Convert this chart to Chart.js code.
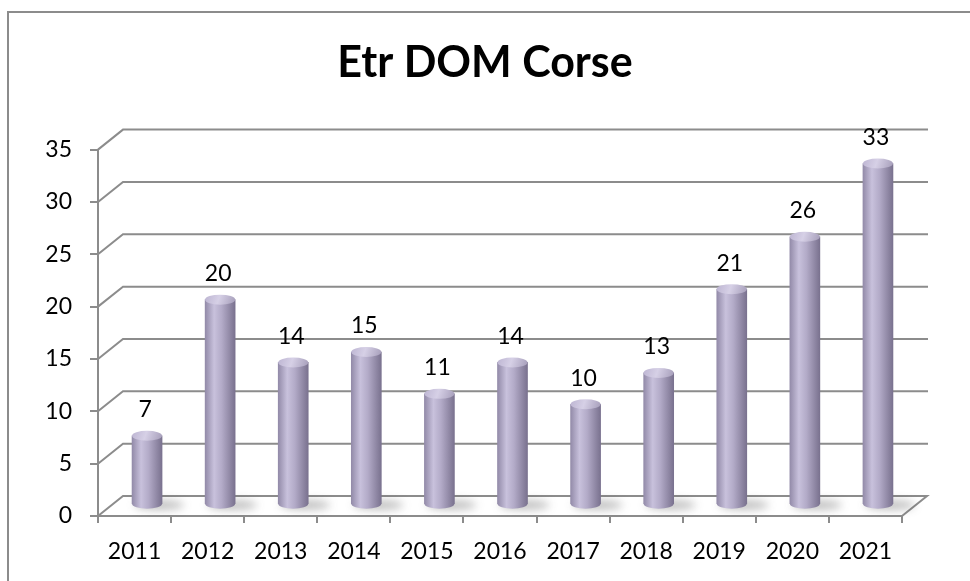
<!DOCTYPE html>
<html>
<head>
<meta charset="utf-8">
<script src="https://cdn.jsdelivr.net/npm/chart.js@4"></script>
<style>
  body { margin: 0; background: #fff; }
  #wrap { width: 970px; height: 581px; }
</style>
</head>
<body>
<div id="wrap"><canvas id="myChart" width="970" height="581"></canvas></div>
<script>
var years = ["2011", "2012", "2013", "2014", "2015", "2016", "2017", "2018", "2019", "2020", "2021"];
var values = [7, 20, 14, 15, 11, 14, 10, 13, 21, 26, 33];
var yTicks = [0, 5, 10, 15, 20, 25, 30, 35];

var DX = 25, DY = -20;          // depth of the 3D box
var SHIFT_X = 12.5, SHIFT_Y = -7; // bars sit in the middle of the box
var BAR_W = 30, RY = 5;
var GRID = '#8c8c8c';

function bodyGradient(ctx, x) {
    var g = ctx.createLinearGradient(x - BAR_W / 2, 0, x + BAR_W / 2, 0);
    g.addColorStop(0, '#938ba9');
    g.addColorStop(0.3, '#c8c1dc');
    g.addColorStop(0.55, '#b3abc8');
    g.addColorStop(1, '#7a728f');
    return g;
}

// frame, 3D grid, floor and shadows
var box3d = {
    id: 'box3d',
    beforeDraw: function(chart) {
        var ctx = chart.ctx;
        ctx.save();
        ctx.fillStyle = '#fff';
        ctx.fillRect(0, 0, chart.width, chart.height);
        ctx.strokeStyle = '#8c8c8c';
        ctx.lineWidth = 2;
        ctx.beginPath();
        ctx.moveTo(8, chart.height);
        ctx.lineTo(8, 12);
        ctx.lineTo(chart.width, 12);
        ctx.stroke();
        ctx.restore();
    },
    beforeDatasetsDraw: function(chart) {
        var ctx = chart.ctx, a = chart.chartArea, y = chart.scales.y, x = chart.scales.x;
        ctx.save();
        ctx.strokeStyle = GRID;
        ctx.lineWidth = 2;
        yTicks.forEach(function(v) {
            var py = y.getPixelForValue(v);
            ctx.beginPath();
            ctx.moveTo(a.left, py);
            ctx.lineTo(a.left + DX, py + DY);
            ctx.lineTo(a.right + DX + (v === 0 ? 0 : 1), py + DY);
            if (v === 0) ctx.lineTo(a.right, py);
            ctx.stroke();
        });
        // shadows on the floor
        ctx.filter = 'blur(4px)';
        ctx.fillStyle = 'rgba(60,60,60,0.32)';
        values.forEach(function(v, i) {
            var px = x.getPixelForValue(i) + SHIFT_X;
            ctx.beginPath();
            ctx.ellipse(px + 12, a.bottom + SHIFT_Y - 4, 25, 5, 0, 0, Math.PI * 2);
            ctx.fill();
        });
        ctx.restore();
        ctx.save();
        ctx.translate(SHIFT_X, SHIFT_Y);
    },
    afterDatasetsDraw: function(chart) {
        var ctx = chart.ctx;
        var meta = chart.getDatasetMeta(0);
        meta.data.forEach(function(el, i) {
            // rounded bottom
            ctx.beginPath();
            ctx.ellipse(el.x, el.base, BAR_W / 2, RY, 0, 0, Math.PI);
            ctx.fillStyle = bodyGradient(ctx, el.x);
            ctx.fill();
            // top cap
            var g = ctx.createLinearGradient(el.x - BAR_W / 2, el.y - RY, el.x + BAR_W / 2, el.y + RY);
            g.addColorStop(0, '#bdb5d2');
            g.addColorStop(0.45, '#d6d0e6');
            g.addColorStop(1, '#a59db9');
            ctx.beginPath();
            ctx.ellipse(el.x, el.y, BAR_W / 2, RY, 0, 0, Math.PI * 2);
            ctx.fillStyle = g;
            ctx.fill();
            // value label
            ctx.fillStyle = '#000';
            ctx.font = '23px Lato';
            ctx.textAlign = 'center';
            ctx.textBaseline = 'middle';
            ctx.fillText(String(values[i]), el.x - 2, el.y - 26);
        });
        ctx.restore();
    }
};

var ctx = document.getElementById('myChart').getContext('2d');
var chart = new Chart(ctx, {
    type: 'bar',
    data: {
        labels: years,
        datasets: [
            {
                label: "Etr DOM Corse",
                data: values,
                base: 0.5,
                barThickness: BAR_W,
                borderWidth: 0,
                backgroundColor: function(c) {
                    var sx = c.chart.scales.x;
                    var px = sx ? sx.getPixelForValue(c.dataIndex) : NaN;
                    if (!isFinite(px)) return '#b0a8c6';
                    return bodyGradient(c.chart.ctx, px);
                }
            }
        ]
    },
    options: {
        responsive: false,
        animation: false,
        layout: { padding: { left: 34, right: 34, top: 0, bottom: 0 } },
        plugins: {
            legend: { display: false },
            tooltip: { enabled: false },
            title: {
                display: true,
                text: 'Etr DOM Corse',
                color: '#000',
                font: { family: 'Lato', size: 43, weight: 'bold', lineHeight: 1.2 },
                padding: { top: 37, bottom: 61 }
            }
        },
        scales: {
            x: {
                grid: { drawOnChartArea: false, color: GRID, lineWidth: 2, tickLength: 7, offset: true },
                border: { color: GRID, width: 2 },
                ticks: { color: '#000', font: { family: 'Lato', size: 23 }, padding: 15 },
                afterFit: function(s) { s.height = 65; }
            },
            y: {
                min: 0,
                max: 35,
                grid: { drawOnChartArea: false, color: GRID, lineWidth: 2, tickLength: 8 },
                border: { color: GRID, width: 2 },
                ticks: { stepSize: 5, color: '#000', font: { family: 'Lato', size: 23 }, padding: 18 },
                afterFit: function(s) { s.width = 64; }
            },
            yRight: {
                position: 'right',
                grid: { display: false },
                border: { display: false },
                ticks: { display: false },
                afterFit: function(s) { s.width = 34; }
            }
        }
    },
    plugins: [box3d]
});
</script>
</body>
</html>
